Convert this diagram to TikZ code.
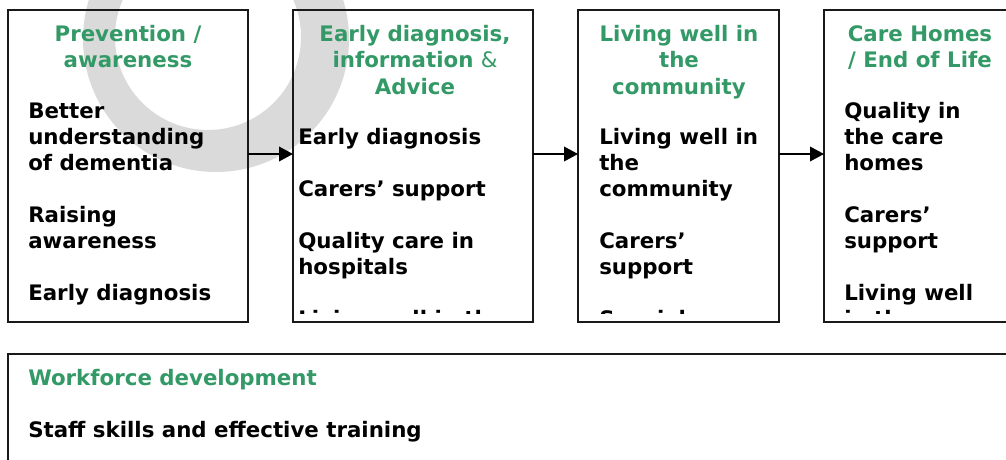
\documentclass[tikz,border=0pt]{standalone}
\usepackage{fontspec}
\setmainfont{DejaVu Sans}
\usetikzlibrary{arrows.meta}
\definecolor{headgreen}{RGB}{51,153,102}
\definecolor{ringgray}{RGB}{218,218,218}
\begin{document}
\begin{tikzpicture}[x=0.75pt,y=-0.75pt,
  box/.style={draw=black!90, line width=1.2pt, anchor=north west, inner sep=0pt, outer sep=0pt},
  txt/.style={inner sep=0pt, font=\bfseries\fontsize{16}{19.5}\selectfont},
  head/.style={txt, anchor=base, text=headgreen},
  item/.style={txt, anchor=base west},
  arr/.style={line width=1.1pt, -{Triangle[length=10.5pt,width=11pt]}}]

\clip (0,0) rectangle (1006,460);

% soft grey ring in the background
\fill[ringgray, even odd rule] (216,39) circle[radius=133] (208,37) circle[radius=93];

% the four stage boxes and the workforce box
\node[box, minimum width=180pt,    minimum height=234pt] (b1) at (8,10) {};
\node[box, minimum width=180pt,    minimum height=234pt] (b2) at (293,10) {};
\node[box, minimum width=150.75pt, minimum height=234pt] (b3) at (578,10) {};
\node[box, minimum width=150.75pt, minimum height=234pt] (b4) at (824,10) {};
\node[box, minimum width=765pt,    minimum height=90pt]  (b5) at (8,354) {};

% arrows between stages
\coordinate (row) at (0,154);
\draw[arr] (b1.east |- row) -- (b2.west |- row);
\draw[arr] (b2.east |- row) -- (b3.west |- row);
\draw[arr] (b3.east |- row) -- (b4.west |- row);

% headings
\node[head] (h1a) at (128,42) {Prevention /};
\node[head] (h1b) at (128,68) {awareness};
\node[head] (h2a) at (415,42) {Early diagnosis,};
\node[head] (h2b) at (415,68) {information {\mdseries\&}};
\node[head] (h2c) at (415,94) {Advice};
\node[head] (h3a) at (679,42) {Living well in};
\node[head] (h3b) at (679,68) {the};
\node[head] (h3c) at (679,94) {community};
\node[head] (h4a) at (920,42) {Care Homes};
\node[head] (h4b) at (920,68) {/ End of Life};
\node[item, text=headgreen] (h5) at (28,385) {Workforce development};

% box contents, cut off at the lower text margin
\begin{scope}
\clip (0,0) rectangle (1006,313.5);
\foreach \t/\r [count=\i] in {Better/0, understanding/1, of dementia/2,
    Raising/4, awareness/5, Early diagnosis/7}
  \node[item] (p1-\i) at (28,118+26*\r) {\t};
\foreach \t/\r [count=\i] in {Early diagnosis/0, Carers’ support/2,
    Quality care in/4, hospitals/5, Living well in the/7}
  \node[item] (p2-\i) at (298,144+26*\r) {\t};
\foreach \t/\r [count=\i] in {Living well in/0, the/1, community/2,
    Carers’/4, support/5, Special care/7}
  \node[item] (p3-\i) at (599,144+26*\r) {\t};
\foreach \t/\r [count=\i] in {Quality in/0, the care/1, homes/2,
    Carers’/4, support/5, Living well/7, in the/8}
  \node[item] (p4-\i) at (844,118+26*\r) {\t};
\end{scope}
\node[item] (p5) at (28,437) {Staff skills and effective training};

\end{tikzpicture}
\end{document}
